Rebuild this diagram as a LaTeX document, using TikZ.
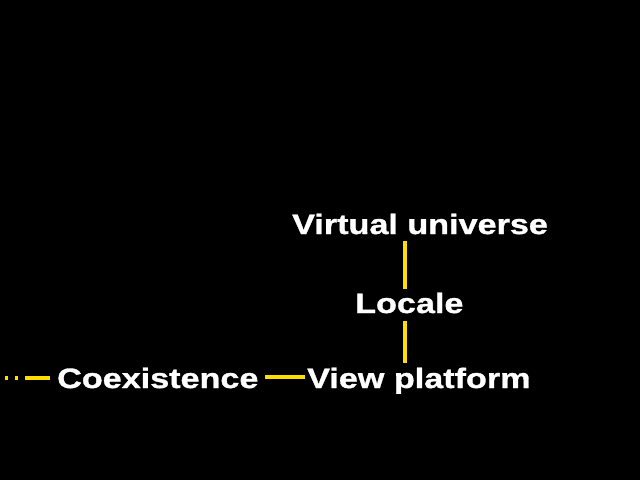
\documentclass[tikz,border=0pt]{standalone}
\usepackage{fontspec}
\newfontfamily\lab[FakeStretch=1.22,FakeBold=1.2]{Liberation Sans Bold}
\usetikzlibrary{calc}
\definecolor{lineyel}{RGB}{255,222,0}
\tikzset{
  lbl/.style={anchor=base west, inner sep=0pt, text=white, font=\lab\fontsize{28}{30}\selectfont},
  conn/.style={draw=lineyel, line width=3.6pt, line cap=butt},
  dots/.style={conn, dash pattern=on 3pt off 7pt}
}
\begin{document}
\begin{tikzpicture}[x=1pt,y=-1pt]
\useasboundingbox[fill=black] (0,0) rectangle (640,480);
\node[lbl] (vu) at (292,234) {Virtual universe};
\node[lbl] (loc) at (355,313) {Locale};
\node[lbl] (vp) at (307,388) {View platform};
\node[lbl] (coex) at (57,388) {Coexistence};
\coordinate (lx) at (405,0);
\coordinate (hy) at (0,377);
\coordinate (ly) at (0,378);
\coordinate (dotend) at (5,378);
\coordinate (solidend) at (25,378);
\draw[conn] (lx |- 0,241) -- (lx |- 0,289);
\draw[conn] (lx |- 0,321) -- (lx |- 0,363);
\draw[conn] ($(coex.west |- hy)+(208,0)$) -- ($(vp.west |- hy)+(-2,0)$);
\draw[conn] ($(coex.west |- ly)+(-7,0)$) -- (solidend);
\draw[dots] (dotend) -- (solidend);
\end{tikzpicture}
\end{document}
